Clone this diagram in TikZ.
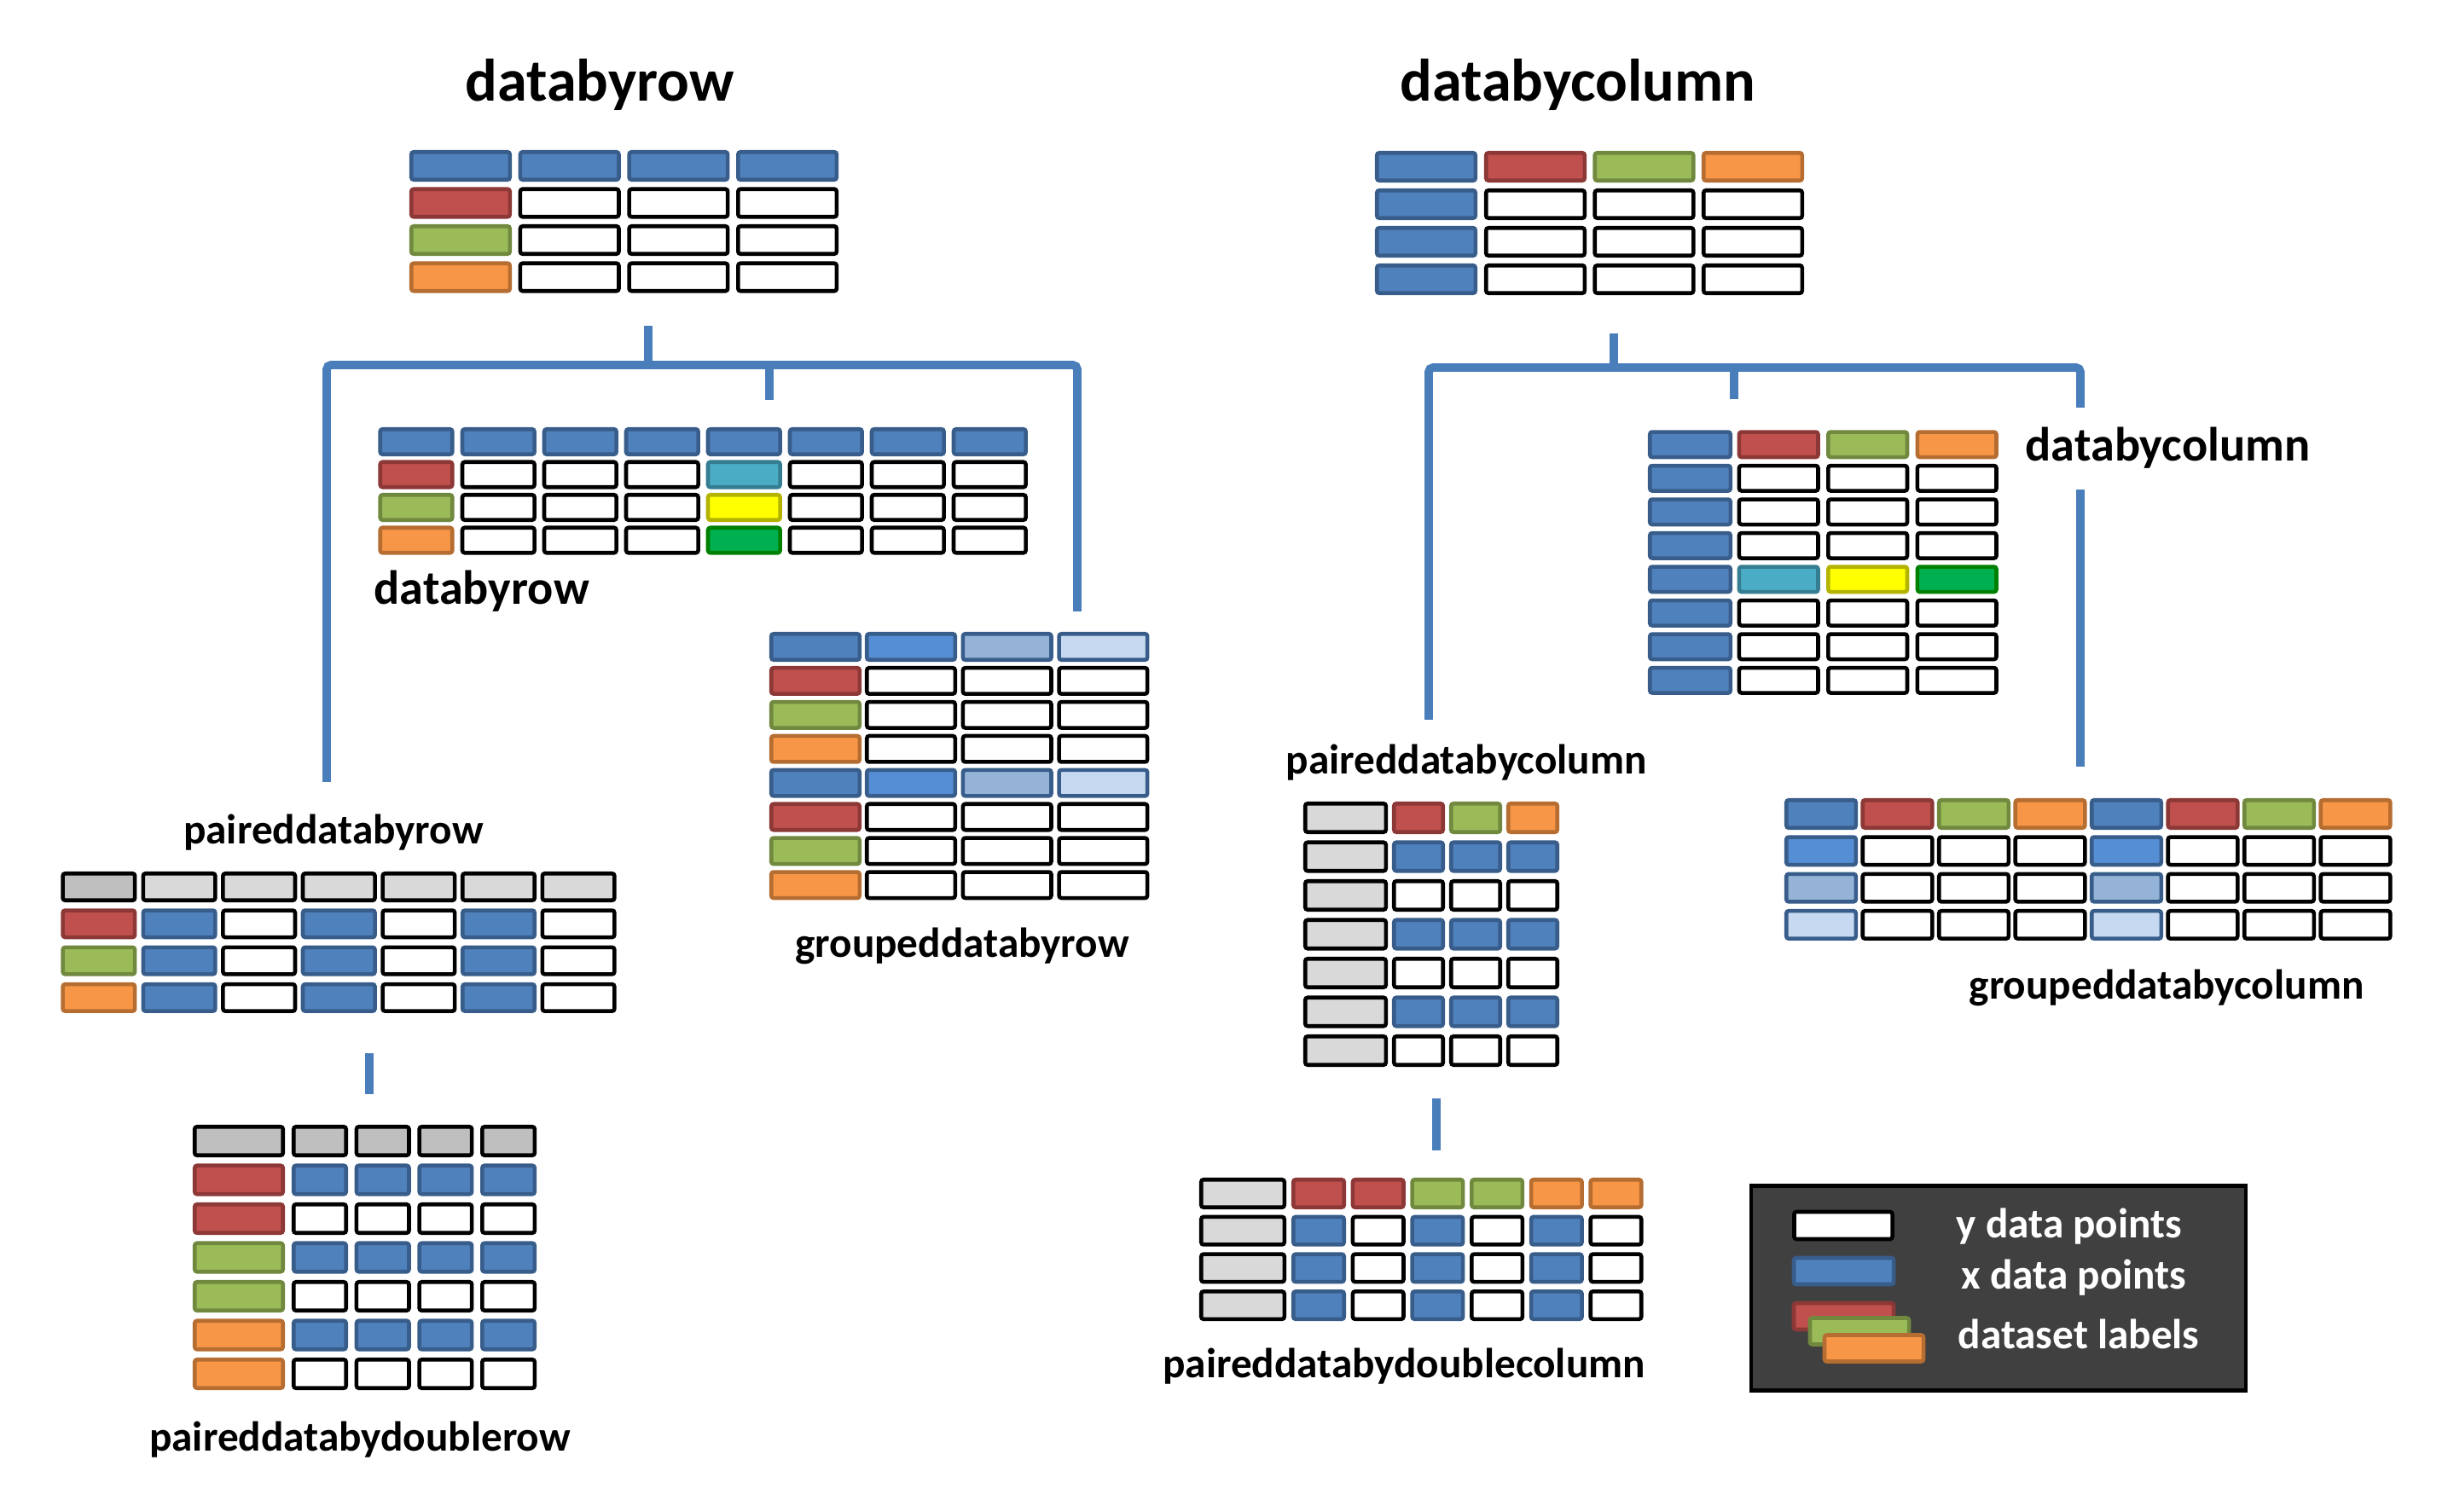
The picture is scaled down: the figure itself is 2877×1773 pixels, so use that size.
\documentclass[tikz,border=0pt]{standalone}
\usepackage{fontspec}
\setmainfont{Carlito}
\usepackage{xcolor}
\usepackage{tikz}

\definecolor{cblue}{HTML}{4F81BD}
\definecolor{cblueD}{HTML}{385D8A}
\definecolor{cred}{HTML}{C0504D}
\definecolor{credD}{HTML}{8C3836}
\definecolor{cgreen}{HTML}{9BBB59}
\definecolor{cgreenD}{HTML}{71893F}
\definecolor{corange}{HTML}{F79646}
\definecolor{corangeD}{HTML}{B66D31}
\definecolor{clgray}{HTML}{D9D9D9}
\definecolor{cgray}{HTML}{BFBFBF}
\definecolor{cmblue}{HTML}{558ED5}
\definecolor{csblue}{HTML}{95B3D7}
\definecolor{cpblue}{HTML}{C6D9F1}
\definecolor{ccyan}{HTML}{4BACC6}
\definecolor{ccyanD}{HTML}{357D91}
\definecolor{cyellow}{HTML}{FFFF00}
\definecolor{cyellowD}{HTML}{B3B300}
\definecolor{cemer}{HTML}{00B050}
\definecolor{cemerD}{HTML}{008000}
\definecolor{clink}{HTML}{4A7EBB}
\definecolor{cpanel}{HTML}{404040}

\tikzset{
  cell/.style={rectangle, draw, line width=1.3pt, rounded corners=0.8pt, inner sep=0pt, outer sep=0pt},
  bl/.style={fill=cblue, draw=cblueD},
  rd/.style={fill=cred, draw=credD},
  gn/.style={fill=cgreen, draw=cgreenD},
  or/.style={fill=corange, draw=corangeD},
  wh/.style={fill=white, draw=black},
  lg/.style={fill=clgray, draw=black},
  gy/.style={fill=cgray, draw=black},
  mb/.style={fill=cmblue, draw=cblueD},
  sb/.style={fill=csblue, draw=cblueD},
  pb/.style={fill=cpblue, draw=cblueD},
  cy/.style={fill=ccyan, draw=ccyanD},
  ye/.style={fill=cyellow, draw=cyellowD},
  em/.style={fill=cemer, draw=cemerD},
  link/.style={draw=clink, line width=2.8pt, rounded corners=1.5pt},
  lbl/.style={font=\bfseries\fontsize{14}{17}\selectfont, inner sep=0pt},
  sublbl/.style={font=\bfseries\fontsize{16}{19}\selectfont, inner sep=0pt},
  ttl/.style={font=\bfseries\fontsize{20}{24}\selectfont, inner sep=0pt},
}

% #1 name, #2 x0/y0/first width/x of column 2, #3 width/dx/height/dy, #4 rows
\newcommand{\celltable}[4]{%
  \foreach \xa/\ya/\wa/\xb in {#2}{%
  \foreach \wb/\dx/\hh/\dy in {#3}{%
  \foreach \row [count=\i] in {#4}{%
    \foreach \c [count=\j] in \row {%
      \ifnum\j=1
        \pgfmathsetmacro{\cx}{\xa+\wa/2}\pgfmathsetmacro{\cw}{\wa}%
      \else
        \pgfmathsetmacro{\cx}{\xb+(\j-2)*\dx+\wb/2}\pgfmathsetmacro{\cw}{\wb}%
      \fi
      \pgfmathsetmacro{\cy}{\ya+(\i-1)*\dy+\hh/2}%
      \pgfmathsetmacro{\mw}{(\cw-4.5)/100}%
      \pgfmathsetmacro{\mh}{(\hh-4.5)/100}%
      \node[cell,\c,minimum width=\mw cm,minimum height=\mh cm] (#1-\i-\j) at (\cx,\cy) {};
    }}}}}

\begin{document}
\begin{tikzpicture}[x=0.01cm, y=-0.01cm]
  \useasboundingbox (0,0) rectangle (2877,1773);

  % titles
  \node[ttl, anchor=base] (rowtitle) at (703,119) {databyrow};
  \node[ttl, anchor=base] (coltitle) at (1850,119) {databycolumn};

  % tables
  \celltable{t1}{480/176/120/607.7}{120/127.7/37/43.5}
    {{bl,bl,bl,bl},{rd,wh,wh,wh},{gn,wh,wh,wh},{or,wh,wh,wh}}
  \celltable{t2}{1612/177/120/1740}{120/127.5/37/44}
    {{bl,rd,gn,or},{bl,wh,wh,wh},{bl,wh,wh,wh},{bl,wh,wh,wh}}
  \celltable{t3}{443.5/501/89/539.8}{89/96/34/38.5}
    {{bl,bl,bl,bl,bl,bl,bl,bl},{rd,wh,wh,wh,cy,wh,wh,wh},
     {gn,wh,wh,wh,ye,wh,wh,wh},{or,wh,wh,wh,em,wh,wh,wh}}
  \celltable{t4}{902/741/108/1014}{108/112.7/35/39.9}
    {{bl,mb,sb,pb},{rd,wh,wh,wh},{gn,wh,wh,wh},{or,wh,wh,wh},
     {bl,mb,sb,pb},{rd,wh,wh,wh},{gn,wh,wh,wh},{or,wh,wh,wh}}
  \celltable{t5}{1528/940/99/1632}{62/67/38/45.5}
    {{lg,rd,gn,or},{lg,bl,bl,bl},{lg,wh,wh,wh},{lg,bl,bl,bl},
     {lg,wh,wh,wh},{lg,bl,bl,bl},{lg,wh,wh,wh}}
  \celltable{t6}{2092/936/86/2181.5}{86/89.5/37/43.3}
    {{bl,rd,gn,or,bl,rd,gn,or},{mb,wh,wh,wh,mb,wh,wh,wh},
     {sb,wh,wh,wh,sb,wh,wh,wh},{pb,wh,wh,wh,pb,wh,wh,wh}}
  \celltable{t7}{71.4/1022/89/165.6}{89/93.6/36/43.3}
    {{gy,lg,lg,lg,lg,lg,lg},{rd,bl,wh,bl,wh,bl,wh},
     {gn,bl,wh,bl,wh,bl,wh},{or,bl,wh,bl,wh,bl,wh}}
  \celltable{t8}{226/1319/108/342}{66/73.7/38/45.5}
    {{gy,gy,gy,gy,gy},{rd,bl,bl,bl,bl},{rd,wh,wh,wh,wh},{gn,bl,bl,bl,bl},
     {gn,wh,wh,wh,wh},{or,bl,bl,bl,bl},{or,wh,wh,wh,wh}}
  \celltable{t9}{1406/1381/102/1514}{64/69.7/37/43.7}
    {{lg,rd,rd,gn,gn,or,or},{lg,bl,wh,bl,wh,bl,wh},
     {lg,bl,wh,bl,wh,bl,wh},{lg,bl,wh,bl,wh,bl,wh}}
  \celltable{t10}{1932/504.3/99/2036.7}{97/104.5/34/39.5}
    {{bl,rd,gn,or},{bl,wh,wh,wh},{bl,wh,wh,wh},{bl,wh,wh,wh},
     {bl,cy,ye,em},{bl,wh,wh,wh},{bl,wh,wh,wh},{bl,wh,wh,wh}}

  % connectors, by row
  \coordinate (rowstem) at (760,382);
  \coordinate (rowbar) at (760,428);
  \coordinate (rowleft) at (383,428);
  \coordinate (rowmid) at (902,428);
  \coordinate (rowright) at (1263,428);
  \coordinate (rowleftend) at (383,917);
  \coordinate (rowmidend) at (902,469);
  \coordinate (rowrightend) at (1263,717);
  \coordinate (pairrowtop) at (433,1235);
  \coordinate (pairrowend) at (433,1283);
  \draw [link] (rowstem) -- (rowbar);
  \draw [link] (rowleftend) -- (rowleft) -- (rowright) -- (rowrightend);
  \draw [link] (rowmid) -- (rowmidend);
  \draw [link] (pairrowtop) -- (pairrowend);

  % connectors, by column
  \coordinate (colstem) at (1892,391);
  \coordinate (colbar) at (1892,431);
  \coordinate (colleft) at (1675,431);
  \coordinate (colmid) at (2033,431);
  \coordinate (colright) at (2439,431);
  \coordinate (colleftend) at (1675,844);
  \coordinate (colmidend) at (2033,468);
  \coordinate (colrightend) at (2439,899);
  \coordinate (paircoltop) at (1684,1288);
  \coordinate (paircolend) at (1684,1349);
  \draw [link] (colstem) -- (colbar);
  \draw [link] (colleftend) -- (colleft) -- (colright) -- (colrightend);
  \draw [link] (colmid) -- (colmidend);
  \draw [link] (paircoltop) -- (paircolend);

  % labels
  \node[sublbl, anchor=base west] (rowlbl) at (438,709) {databyrow};
  \node[sublbl, anchor=base west, fill=white, inner xsep=2pt, inner ysep=6.8pt] (collbl) at (2367,541) {databycolumn};
  \node[lbl, anchor=base] (pairrowlbl) at (391,990) {paireddatabyrow};
  \node[lbl, anchor=base] (grouprowlbl) at (1128,1122) {groupeddatabyrow};
  \node[lbl, anchor=base] (paircollbl) at (1719,908) {paireddatabycolumn};
  \node[lbl, anchor=base] (groupcollbl) at (2540,1172) {groupeddatabycolumn};
  \node[lbl, anchor=base] (dblrowlbl) at (422,1701) {paireddatabydoublerow};
  \node[lbl, anchor=base] (dblcollbl) at (1646,1615) {paireddatabydoublecolumn};

  % legend
  \node[draw=black, fill=cpanel, line width=1.3pt, minimum width=5.8cm, minimum height=2.4cm, inner sep=0pt] (legend) at (2343,1510.5) {};
  \node[cell, wh, minimum width=1.15cm, minimum height=0.32cm] (keyy) at (2161,1437) {};
  \node[cell, bl, minimum width=1.17cm, minimum height=0.31cm] (keyx) at (2161.5,1490.5) {};
  \node[cell, rd, minimum width=1.17cm, minimum height=0.31cm] (keyr) at (2161.5,1543.5) {};
  \node[cell, gn, minimum width=1.16cm, minimum height=0.31cm] (keyg) at (2180,1561) {};
  \node[cell, or, minimum width=1.16cm, minimum height=0.31cm] (keyo) at (2197,1581) {};
  \node[lbl, text=white, anchor=base west] (keyytxt) at (2293,1451) {y data points};
  \node[lbl, text=white, anchor=base west] (keyxtxt) at (2299,1511) {x data points};
  \node[lbl, text=white, anchor=base west] (keydtxt) at (2295,1581) {dataset labels};
\end{tikzpicture}
\end{document}
